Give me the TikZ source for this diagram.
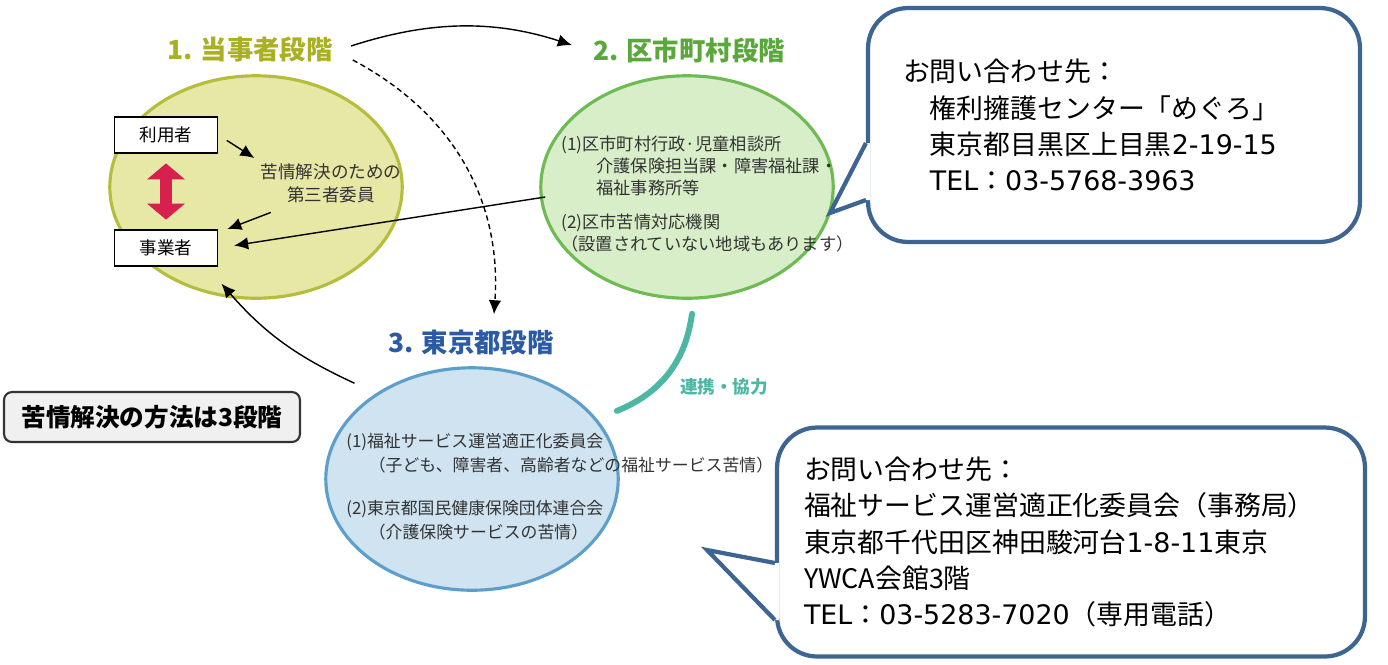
\documentclass[tikz,border=0pt]{standalone}
\usepackage{fontspec}
\setmainfont{Noto Sans CJK JP}
\newfontfamily\wideltn{DejaVu Sans}
\usepackage{tikz}
\usetikzlibrary{shapes.geometric}
\usetikzlibrary{positioning,calc}
\usetikzlibrary{arrows.meta}
\definecolor{yellowfill}{HTML}{E7E8A6}
\definecolor{yellowline}{HTML}{B5BE3C}
\definecolor{greenfill}{HTML}{D8EEC8}
\definecolor{greenline}{HTML}{6DBB52}
\definecolor{bluefill}{HTML}{CFE3F1}
\definecolor{blueline}{HTML}{5D9FCB}
\definecolor{titleyellow}{HTML}{A9B024}
\definecolor{titlegreen}{HTML}{5AA83B}
\definecolor{titleblue}{HTML}{2B5BA5}
\definecolor{renkeicolor}{HTML}{4DB6A4}
\definecolor{fukidashicolor}{HTML}{3E6491}
\definecolor{akacolor}{HTML}{D6204D}
\definecolor{textgray}{HTML}{333333}
\tikzstyle{dankai} = [ellipse, line width=1.8pt, minimum width=5.85cm, minimum height=4.45cm]
\tikzstyle{shutai} = [rectangle, draw=black, line width=1pt, fill=white, minimum width=2.06cm, minimum height=0.72cm, font=\fontsize{10}{12}\selectfont]
\tikzstyle{midashi} = [font=\fontsize{15}{18}\selectfont\bfseries]
\tikzstyle{setsumei} = [align=left, inner sep=0pt, text=textgray]
\tikzstyle{arrow} = [line width=0.8pt,-{Latex[length=2.8mm,width=2.5mm]}]
\tikzstyle{fukidashi} = [rectangle, draw=fukidashicolor, line width=2.4pt, fill=white, rounded corners=0.8cm, align=left, font=\fontsize{15.3}{20.6}\selectfont]
\tikzstyle{shippo} = [draw=fukidashicolor, line width=2.4pt, line join=miter]

\begin{document}
\begin{tikzpicture}[x=0.02cm,y=-0.02cm]
	\useasboundingbox (0,0) rectangle (1388,664);
	\node (dankai1) at (256,187) [dankai, draw=yellowline, fill=yellowfill] {};
	\node (dankai2) at (687,187) [dankai, draw=greenline, fill=greenfill] {};
	\node (dankai3) at (472,479) [dankai, draw=blueline, fill=bluefill] {};
	\node (title1) at (250,50) [midashi, text=titleyellow] {1. 当事者段階};
	\node (title2) at (689,50) [midashi, text=titlegreen] {2. 区市町村段階};
	\node (title3) at (471,343) [midashi, text=titleblue] {3. 東京都段階};
	\node (riyousha) at (166,135) [shutai] {利用者};
	\node (jigyousha) at (166,248) [shutai] {事業者};
	\node (daisansha) at (331,183) [setsumei, align=center, inner sep=2pt, font=\fontsize{10}{13}\selectfont] {苦情解決のための\\第三者委員};
	\node (kushichoson) at (561,136) [setsumei, anchor=north west, font=\fontsize{9.8}{12.4}\selectfont] {(1)区市町村行政·児童相談所\\
		\hspace*{0.7cm}介護保険担当課・障害福祉課・\\
		\hspace*{0.7cm}福祉事務所等\\[7pt]
		(2)区市苦情対応機関\\
		（設置されていない地域もあります）};
	\node (tokyo) at (346,433) [setsumei, anchor=north west, font=\fontsize{9.6}{13.6}\selectfont] {(1)福祉サービス運営適正化委員会\\
		\hspace*{0.45cm}（子ども、障害者、高齢者などの福祉サービス苦情）\\[11pt]
		(2)東京都国民健康保険団体連合会\\
		\hspace*{0.45cm}（介護保険サービスの苦情）};
	\node (houhou) at (152,417) [rectangle, rounded corners=0.16cm, draw=textgray, fill=black!6, line width=1.2pt, minimum width=5.92cm, minimum height=1cm, font=\fontsize{14}{16}\selectfont\bfseries] {苦情解決の方法は3段階};
	\node (renkei) at (724,387) [text=renkeicolor, font=\fontsize{10}{12}\selectfont\bfseries] {連携・協力};
	\draw[line width=0.24cm, akacolor, shorten <=0.19cm, shorten >=0.19cm, {Triangle[width=0.74cm,length=0.32cm]}-{Triangle[width=0.74cm,length=0.32cm]}] (riyousha) -- (jigyousha);
	\draw[arrow, shorten <=0.2cm, shorten >=0.06cm] (riyousha.east) -- (daisansha.north west);
	\draw[arrow] ([shift={(14,6)}]daisansha.south west) -- ([shift={(9,0)}]jigyousha.north east);
	\draw[arrow, shorten >=0.32cm] ([shift={(6,10)}]dankai2.west) -- (jigyousha.east);
	\draw[arrow, shorten <=0.26cm, shorten >=0.32cm] (title1.east) to[bend left=18] (title2.west);
	\draw[arrow, densely dashed] ([shift={(14,10)}]title1.east) to[bend left=33] ([shift={(23,-10)}]title3.north);
	\draw[arrow] ([shift={(-13,-16)}]dankai3.north west) to[bend left=12] ([shift={(5,-12)}]dankai1.250);
	\draw[renkeicolor, line width=3.4pt, line cap=round] ([shift={(5,14)}]dankai2.south) to[bend left=30] ([shift={(27,0)}]dankai3.30);
	\node (toiawase1) at (1114,125) [fukidashi, minimum width=9.84cm, minimum height=4.68cm, text width=8.44cm] {お問い合わせ先：\\
		\hspace*{1em}権利擁護センター「めぐろ」\\
		\hspace*{1em}東京都目黒区上目黒{\wideltn 2-19-15}\\
		\hspace*{1em}{\wideltn TEL}：{\wideltn 03-5768-3963}};
	\coordinate (tip1) at (830,213);
	\fill[white] ([shift={(4,18)}]toiawase1.west) -- ([shift={(0,18)}]toiawase1.west) -- (tip1) -- ([shift={(0,75)}]toiawase1.west) -- ([shift={(4,75)}]toiawase1.west) -- cycle;
	\draw[shippo] ([shift={(0,18)}]toiawase1.west) -- (tip1) -- ([shift={(0,75)}]toiawase1.west);
	\node (toiawase2) at (1071,542) [fukidashi, minimum width=11.76cm, minimum height=4.58cm, text width=10.68cm] {お問い合わせ先：\\
		福祉サービス運営適正化委員会（事務局）\\
		東京都千代田区神田駿河台{\wideltn 1-8-11}東京\\
		YWCA会館3階\\
		{\wideltn TEL}：{\wideltn 03-5283-7020}（専用電話）};
	\coordinate (tip2) at (707,550);
	\fill[white] ([shift={(4,21)}]toiawase2.west) -- ([shift={(0,21)}]toiawase2.west) -- (tip2) -- ([shift={(0,78)}]toiawase2.west) -- ([shift={(4,78)}]toiawase2.west) -- cycle;
	\draw[shippo] ([shift={(0,21)}]toiawase2.west) -- (tip2) -- ([shift={(0,78)}]toiawase2.west);
\end{tikzpicture}
\end{document}
